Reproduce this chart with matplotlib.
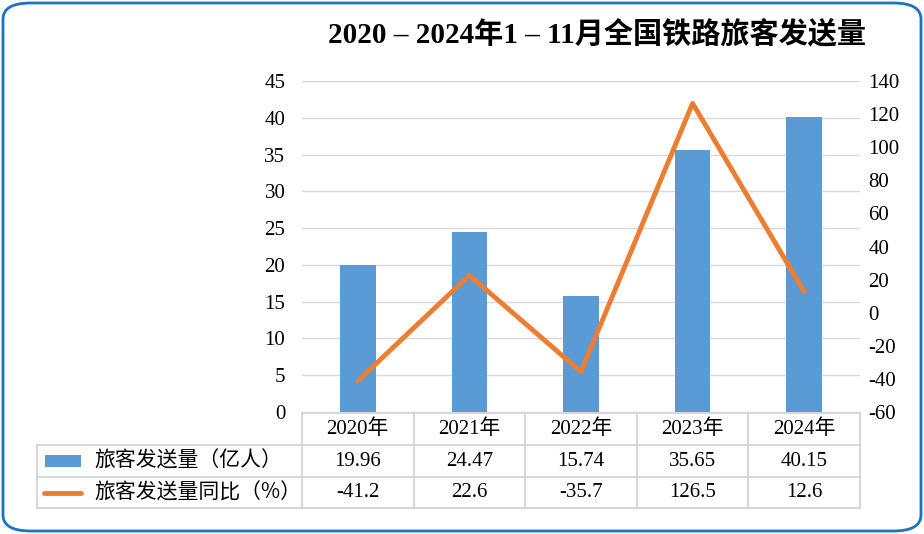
import matplotlib
matplotlib.use('Agg')
import matplotlib.pyplot as plt
from matplotlib.patches import FancyBboxPatch, Rectangle
from matplotlib.lines import Line2D
import matplotlib.transforms as mtransforms

plt.rcParams['font.family'] = ['Liberation Serif', 'Noto Sans CJK SC']
plt.rcParams['axes.unicode_minus'] = False

years = ["2020年", "2021年", "2022年", "2023年", "2024年"]
volume = [19.96, 24.47, 15.74, 35.65, 40.15]
yoy = [-41.2, 22.6, -35.7, 126.5, 12.6]
volume_labels = ["19.96", "24.47", "15.74", "35.65", "40.15"]
yoy_labels = ["-41.2", "22.6", "-35.7", "126.5", "12.6"]
row_names = ["旅客发送量（亿人）", "旅客发送量同比（%）"]
title = "2020 – 2024年1 – 11月全国铁路旅客发送量"

BAR_COLOR = "#5B9BD5"
LINE_COLOR = "#ED7D31"
GRID_COLOR = "#D9D9D9"
BORDER_COLOR = "#1A73C8"
FS = 15

W, H = 924, 534
fig = plt.figure(figsize=(W / 100, H / 100), dpi=100)
fig.patch.set_facecolor("white")

# 外框
border = FancyBboxPatch((3 / W, 3 / H), 1 - 6 / W, 1 - 6 / H,
                        boxstyle="round,pad=0,rounding_size=0.03",
                        transform=fig.transFigure, facecolor="none",
                        edgecolor=BORDER_COLOR, linewidth=2, zorder=5)
fig.add_artist(border)

left, right, top, bottom = 302, 860, 81, 412
ax = fig.add_axes([left / W, 1 - bottom / H, (right - left) / W, (bottom - top) / H])
ax.set_facecolor("none")
x = list(range(len(years)))
ax.bar(x, volume, width=0.32, color=BAR_COLOR, zorder=2)
ax.set_xlim(-0.5, len(years) - 0.5)
ax.set_ylim(0, 45)
ax.set_yticks(range(0, 46, 5))
ax.yaxis.grid(True, color=GRID_COLOR, linewidth=1)
ax.set_axisbelow(True)
ax.set_xticks([])
for s in ax.spines.values():
    s.set_visible(False)
ax.tick_params(axis="y", length=0, labelsize=FS, pad=12)

ax2 = ax.twinx()
ax2.plot(x, yoy, color=LINE_COLOR, linewidth=3.5, zorder=3, solid_capstyle="round")
ax2.set_ylim(-60, 140)
ax2.set_yticks(range(-60, 141, 20))
for s in ax2.spines.values():
    s.set_visible(False)
ax2.tick_params(axis="y", length=0, labelsize=FS, pad=6)

# 数据表
trans = mtransforms.blended_transform_factory(ax.transData, fig.transFigure)
fy = lambda py: 1 - py / H
rows_y = [412.5, 445, 477, 508]
xs = [i - 0.5 for i in range(len(years) + 1)]
lw = 1.2
tc = "#D0D0D0"
fig.add_artist(Line2D([xs[0], xs[-1]], [fy(rows_y[0])] * 2, transform=trans, color=tc, lw=lw))
for yy in rows_y[1:]:
    fig.add_artist(Line2D([37 / W, right / W], [fy(yy)] * 2, transform=fig.transFigure, color=tc, lw=lw))
for xx in xs:
    fig.add_artist(Line2D([xx, xx], [fy(rows_y[0]), fy(rows_y[-1])], transform=trans, color=tc, lw=lw))
fig.add_artist(Line2D([37 / W, 37 / W], [fy(rows_y[1]), fy(rows_y[-1])], transform=fig.transFigure, color=tc, lw=lw))


def mid(i):
    return fy((rows_y[i] + rows_y[i + 1]) / 2)


for i, yr in enumerate(years):
    fig.text(i, mid(0), yr, transform=trans, ha="center", va="center", fontsize=FS)
    fig.text(i, mid(1), volume_labels[i], transform=trans, ha="center", va="center", fontsize=FS)
    fig.text(i, mid(2), yoy_labels[i], transform=trans, ha="center", va="center", fontsize=FS)

fig.add_artist(Rectangle((45 / W, mid(1) - 6 / H), 36 / W, 12 / H,
                         transform=fig.transFigure, facecolor=BAR_COLOR, edgecolor="none"))
fig.add_artist(Line2D([44 / W, 81 / W], [mid(2), mid(2)], transform=fig.transFigure,
                      color=LINE_COLOR, lw=3.5, solid_capstyle="round"))
for r, name in enumerate(row_names):
    fig.text(94 / W, mid(r + 1), name, ha="left", va="center", fontsize=FS,
             family=['Noto Sans CJK SC', 'DejaVu Sans'], fontweight="light")

fig.text(597 / W, fy(35), title, ha="center", va="center", fontsize=21, fontweight="bold")

fig.savefig("out.png", dpi=100)
